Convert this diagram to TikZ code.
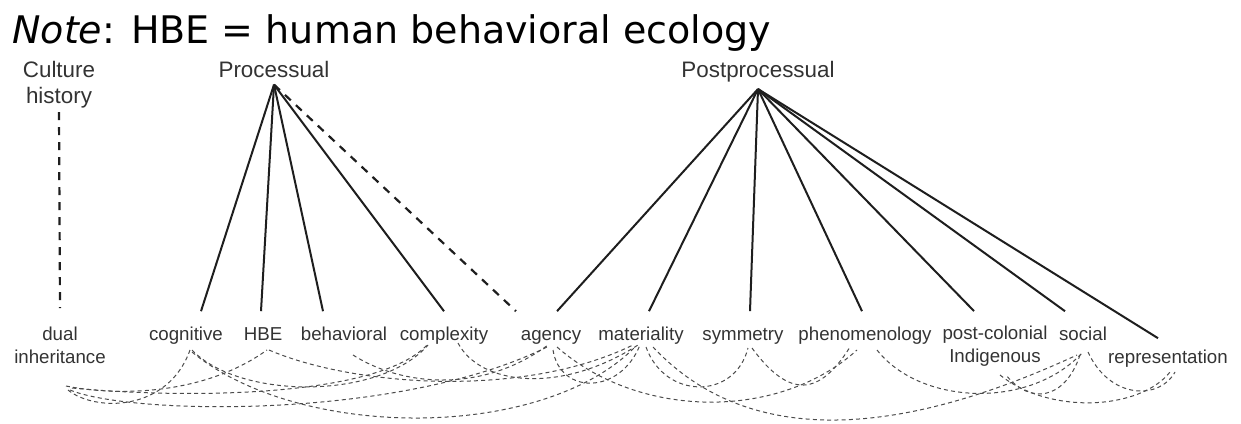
\documentclass[tikz,border=0pt]{standalone}
\usepackage{fontspec}
\setmainfont{Liberation Sans}
\newfontfamily\notefont{DejaVu Sans}
\usetikzlibrary{positioning}
\definecolor{Ink}{HTML}{1E1E1E}
\definecolor{Label}{HTML}{333333}
\tikzset{
  school/.style={font=\fontsize{11.2}{13}\selectfont,text=Label,align=center,inner sep=0pt},
  topic/.style={font=\fontsize{9.35}{11.5}\selectfont,text=Label,align=center,inner sep=0pt,text height=0.72em},
  twoline/.style={text height={}},
  tie/.style={draw=Ink,line width=1pt},
  dashtie/.style={draw=Ink,line width=1.1pt,dash pattern=on 4pt off 3.5pt},
  link/.style={draw=Ink!80,line width=0.5pt,dash pattern=on 2pt off 1.6pt}
}

\begin{document}
\begin{tikzpicture}[x=0.5pt,y=-0.5pt]
  \useasboundingbox (0,0) rectangle (1241,423);
  \node[anchor=base west,inner sep=0pt,font=\notefont\fontsize{19}{22}\selectfont] (note) at (12,43) {\textit{Note}: HBE = human behavioral ecology};

  % schools
  \node[school,anchor=base] (culture) at (59,103) {Culture\\history};
  \node[school,anchor=base] (proc) at (274,77) {Processual};
  \node[school,anchor=base] (postproc) at (758,77) {Postprocessual};
  \coordinate[below=3.5pt of proc] (procapex);
  \coordinate[below=3.5pt of postproc] (postapex);

  % topics
  \node[topic,twoline,anchor=base] (dual) at (60,363) {dual\\inheritance};
  \node[topic,anchor=base] (cog) at (186,340) {cognitive};
  \node[topic,anchor=base] (hbe) at (263,340) {HBE};
  \node[topic,anchor=base] (beh) at (344,340) {behavioral};
  \node[topic,anchor=base] (cplx) at (444,340) {complexity};
  \node[topic,anchor=base] (agen) at (551,340) {agency};
  \node[topic,anchor=base] (mat) at (641,340) {materiality};
  \node[topic,anchor=base] (sym) at (743,340) {symmetry};
  \node[topic,anchor=base] (phen) at (865,340) {phenomenology};
  \node[topic,twoline,anchor=base] (postcol) at (995,362) {post-colonial\\Indigenous};
  \node[topic,anchor=base] (soc) at (1083,340) {social};
  \node[topic,anchor=base] (rep) at (1168,363) {representation};

  % schools to topics
  \draw[dashtie] ([yshift=-2pt]culture.south) -- ([yshift=9pt]dual.north);
  \draw[tie] (procapex) -- ([xshift=7.5pt,yshift=7pt]cog.north);
  \draw[tie] (procapex) -- ([xshift=-1pt,yshift=7pt]hbe.north);
  \draw[tie] (procapex) -- ([xshift=-10.5pt,yshift=7pt]beh.north);
  \draw[tie] (procapex) -- ([yshift=7pt]cplx.north);
  \draw[dashtie] (procapex) -- ([xshift=-17.5pt,yshift=7pt]agen.north);
  \draw[tie] (postapex) -- ([xshift=3pt,yshift=7pt]agen.north);
  \draw[tie] (postapex) -- ([xshift=4pt,yshift=7pt]mat.north);
  \draw[tie] (postapex) -- ([xshift=3.5pt,yshift=7pt]sym.north);
  \draw[tie] (postapex) -- ([xshift=-1.5pt,yshift=7pt]phen.north);
  \draw[tie] (postapex) -- ([xshift=-10.5pt,yshift=7pt]postcol.north);
  \draw[tie] (postapex) -- ([xshift=-9pt,yshift=7pt]soc.north);
  \draw[tie] (postapex) -- ([xshift=-5pt,yshift=5pt]rep.north);

  % links between topics
  \draw[link] ([shift={(8,27)}]dual.base) .. controls +(27,22) and +(-22,62) .. ([shift={(4,10)}]cog.base);
  \draw[link] ([shift={(6,23)}]dual.base) .. controls +(44,9) and +(-67,48) .. ([shift={(4,10)}]hbe.base);
  \draw[link] ([shift={(10,27)}]dual.base) .. controls +(60,25) and +(-147,73) .. ([shift={(-4,7)}]agen.base);
  \draw[link] ([shift={(12,25)}]dual.base) .. controls +(128,12) and +(-47,50) .. ([shift={(-17,5)}]cplx.base);
  \draw[link] ([shift={(6,10)}]cog.base) .. controls +(48,50) and +(-48,55) .. ([shift={(-16,5)}]cplx.base);
  \draw[link] ([shift={(6,12)}]cog.base) .. controls +(108,89) and +(-92,95) .. ([shift={(-5,6)}]mat.base);
  \draw[link] ([shift={(6,10)}]hbe.base) .. controls +(81,35) and +(-113,55) .. ([shift={(-8,5)}]mat.base);
  \draw[link] ([shift={(9,15)}]beh.base) .. controls +(47,30) and +(-68,50) .. ([shift={(-3,5)}]agen.base);
  \draw[link] ([shift={(14,3)}]cplx.base) .. controls +(22,42) and +(-78,50) .. ([shift={(-3,5)}]mat.base);
  \draw[link] ([shift={(2,10)}]agen.base) .. controls +(7,45) and +(-20,50) .. ([shift={(-1,5)}]mat.base);
  \draw[link] ([shift={(6,7)}]agen.base) .. controls +(83,73) and +(-77,70) .. ([shift={(-8,10)}]phen.base);
  \draw[link] ([shift={(5,7)}]mat.base) .. controls +(19,53) and +(-13,52) .. ([shift={(5,8)}]sym.base);
  \draw[link] ([shift={(12,7)}]mat.base) .. controls +(90,96) and +(-190,88) .. ([shift={(-6,15)}]soc.base);
  \draw[link] ([shift={(9,8)}]sym.base) .. controls +(38,52) and +(-30,48) .. ([shift={(-15,7)}]phen.base);
  \draw[link] ([shift={(12,10)}]phen.base) .. controls +(43,55) and +(-53,58) .. ([shift={(0,12)}]soc.base);
  \draw[link] ([shift={(-3,15)}]soc.base) .. controls +(-15,45) and +(24,30) .. ([shift={(11,13)}]postcol.base);
  \draw[link] ([shift={(5,12)}]soc.base) .. controls +(22,48) and +(-15,28) .. ([shift={(7,9)}]rep.base);
  \draw[link] ([shift={(5,13)}]postcol.base) .. controls +(50,40) and +(-30,38) .. ([shift={(2,9)}]rep.base);
\end{tikzpicture}
\end{document}
